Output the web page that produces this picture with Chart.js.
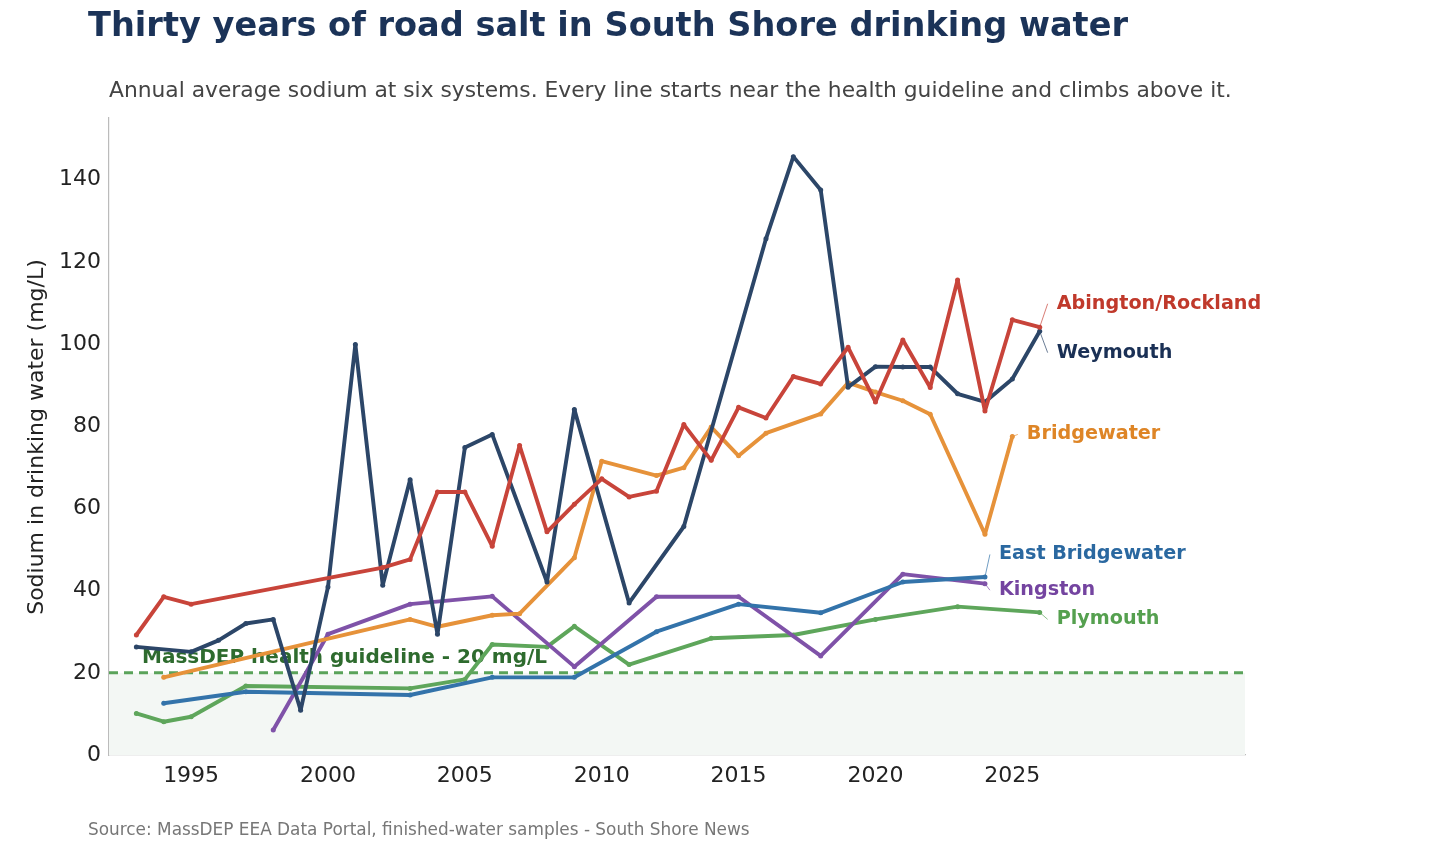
<!DOCTYPE html>
<html>
<head>
<meta charset="utf-8">
<script src="https://cdn.jsdelivr.net/npm/chart.js@4"></script>
<style>
  body { margin: 0; background: #fff; }
  #wrap { width: 1456px; height: 848px; }
</style>
</head>
<body>
<div id="wrap"><canvas id="saltChart" width="1456" height="848"></canvas></div>
<script>
// years sampled, 1993-2026
const years = [1993, 1994, 1995, 1996, 1997, 1998, 1999, 2000, 2001, 2002,
  2003, 2004, 2005, 2006, 2007, 2008, 2009, 2010, 2011, 2012,
  2013, 2014, 2015, 2016, 2017, 2018, 2019, 2020, 2021, 2022,
  2023, 2024, 2025, 2026];

// sodium, mg/L (null = no sample that year)
const abington = [29.2, 38.5, 36.7, null, null, null, null, null, null, 45.6,
  47.6, 64.0, 64.0, 50.8, 75.3, 54.3, 61.0, 67.2, 62.8, 64.2,
  80.4, 71.7, 84.6, 82.0, 92.1, 90.3, 99.2, 85.9, 101.0, 89.4,
  115.6, 83.7, 105.9, 104.1];
const weymouth = [26.3, null, 25.1, 27.9, 32.0, 33.0, 10.9, 40.9, 99.9, 41.3,
  67.0, 29.4, 74.8, 78.0, null, 42.1, 84.1, null, 37.0, null,
  55.6, null, null, 125.6, 145.6, 137.5, 89.5, 94.5, 94.4, 94.4,
  87.9, 85.9, 91.5, 103.1];
const bridgewater = [null, 18.9, null, null, null, null, null, null, null, null,
  33.0, 31.2, null, 34.0, 34.4, null, 48.0, 71.5, null, 68.0,
  69.9, 79.8, 72.8, 78.3, null, 83.0, 90.6, 88.3, 86.2, 82.9,
  null, 53.7, 77.5, null];
const eastBridgewater = [null, 12.6, null, null, 15.4, null, null, null, null, null,
  14.6, null, null, 18.9, null, null, 18.9, null, null, 30.0,
  null, null, 36.7, null, null, 34.6, null, null, 42.1, null,
  null, 43.3, null, null];
const kingston = [null, null, null, null, null, 6.1, null, 29.4, null, null,
  36.7, null, null, 38.6, null, null, 21.5, null, null, 38.5,
  null, null, 38.5, null, null, 24.1, null, null, 44.0, null,
  null, 41.7, null, null];
const plymouth = [10.1, 8.1, 9.3, null, 16.8, null, null, null, null, null,
  16.2, null, 18.4, 26.9, null, 26.3, 31.3, null, 22.0, null,
  null, 28.4, null, null, 29.2, null, null, 33.0, null, null,
  36.1, null, null, 34.7];

const xTicks = [1995, 2000, 2005, 2010, 2015, 2020, 2025];
const yTicks = [0, 20, 40, 60, 80, 100, 120, 140];
const guideline = 20;

const FONT = "'DejaVu Sans', sans-serif";

const series = [
  { name: "Abington/Rockland", values: abington, color: "#c8443a", text: "#c0392b" },
  { name: "Weymouth", values: weymouth, color: "#2c4668", text: "#1a3055" },
  { name: "Bridgewater", values: bridgewater, color: "#e6923a", text: "#de8526" },
  { name: "East Bridgewater", values: eastBridgewater, color: "#3373aa", text: "#2a68a0" },
  { name: "Kingston", values: kingston, color: "#7f52a8", text: "#7444a0" },
  { name: "Plymouth", values: plymouth, color: "#5ea65b", text: "#55a04f" }
];

// where each end label sits, in axis units (year, mg/L)
const labelSpots = {
  "Abington/Rockland": [2026.62, 109.8],
  "Weymouth": [2026.62, 97.9],
  "Bridgewater": [2025.53, 78.0],
  "East Bridgewater": [2024.51, 48.8],
  "Kingston": [2024.51, 40.1],
  "Plymouth": [2026.62, 33.0]
};

const datasets = series.map(s => ({
  label: s.name,
  data: years.map((yr, i) => ({ x: yr, y: s.values[i] })),
  borderColor: s.color,
  backgroundColor: s.color,
  borderWidth: 3.9,
  borderJoinStyle: "round",
  borderCapStyle: "round",
  pointRadius: 2.5,
  pointBorderWidth: 0,
  pointBackgroundColor: s.color,
  tension: 0,
  spanGaps: true
}));

// shaded band + dashed guideline under the lines
const guidePlugin = {
  id: "guide",
  beforeDatasetsDraw(chart) {
    const { ctx, chartArea, scales } = chart;
    const yG = scales.y.getPixelForValue(guideline);
    const y0 = scales.y.getPixelForValue(0);
    ctx.save();
    ctx.fillStyle = "#f3f7f4";
    ctx.fillRect(chartArea.left, yG, chartArea.right - chartArea.left, y0 - yG);
    ctx.strokeStyle = "#5aa35a";
    ctx.lineWidth = 3;
    ctx.setLineDash([9, 6]);
    ctx.beginPath();
    ctx.moveTo(chartArea.left, yG);
    ctx.lineTo(chartArea.right, yG);
    ctx.stroke();
    ctx.setLineDash([]);
    ctx.fillStyle = "#2e6b2e";
    ctx.font = "bold 20px " + FONT;
    ctx.textBaseline = "middle";
    ctx.fillText("MassDEP health guideline - 20 mg/L", 142, yG - 15);
    ctx.restore();
  }
};

// direct labels at the end of each line
const endLabelPlugin = {
  id: "endLabels",
  afterDatasetsDraw(chart) {
    const { ctx, scales } = chart;
    ctx.save();
    ctx.font = "bold 19.2px " + FONT;
    ctx.textBaseline = "middle";
    series.forEach(s => {
      let last = s.values.length - 1;
      while (s.values[last] == null) last--;
      const px = scales.x.getPixelForValue(years[last]);
      const py = scales.y.getPixelForValue(s.values[last]);
      const spot = labelSpots[s.name];
      const lx = scales.x.getPixelForValue(spot[0]);
      const ly = scales.y.getPixelForValue(spot[1]);
      ctx.strokeStyle = s.color;
      ctx.globalAlpha = 0.7;
      ctx.lineWidth = 1;
      ctx.beginPath();
      ctx.moveTo(px, py);
      ctx.lineTo(lx - 9, ly);
      ctx.stroke();
      ctx.globalAlpha = 1;
      ctx.fillStyle = s.text;
      ctx.fillText(s.name, lx, ly);
    });
    ctx.restore();
  }
};

// headline, dek, axis title and source line
const textPlugin = {
  id: "texts",
  afterDraw(chart) {
    const ctx = chart.ctx;
    ctx.save();
    ctx.textBaseline = "middle";
    ctx.fillStyle = "#1b3358";
    ctx.font = "bold 33.6px " + FONT;
    ctx.fillText("Thirty years of road salt in South Shore drinking water", 88, 27);
    ctx.fillStyle = "#444";
    ctx.font = "21.8px " + FONT;
    ctx.fillText("Annual average sodium at six systems. Every line starts near the health guideline and climbs above it.", 109, 91);
    ctx.fillStyle = "#777";
    ctx.font = "16.9px " + FONT;
    ctx.fillText("Source: MassDEP EEA Data Portal, finished-water samples - South Shore News", 88, 831);
    ctx.translate(37, 437);
    ctx.rotate(-Math.PI / 2);
    ctx.textAlign = "center";
    ctx.fillStyle = "#222";
    ctx.font = "22px " + FONT;
    ctx.fillText("Sodium in drinking water (mg/L)", 0, 0);
    ctx.restore();
  }
};

new Chart(document.getElementById("saltChart"), {
  type: "line",
  data: { datasets: datasets },
  options: {
    responsive: false,
    animation: false,
    layout: { padding: { left: 0, top: 118, right: 211, bottom: 0 } },
    plugins: {
      legend: { display: false },
      tooltip: { enabled: false }
    },
    scales: {
      x: {
        type: "linear",
        min: 1992,
        max: 2033.5,
        grid: { display: false, drawTicks: false },
        border: { color: "#bbb", width: 1.2 },
        afterFit(s) { s.height = 93; },
        afterBuildTicks(s) { s.ticks = xTicks.map(v => ({ value: v })); },
        ticks: {
          color: "#222",
          padding: 8,
          font: { family: FONT, size: 22 },
          callback: v => String(v)
        }
      },
      y: {
        min: 0,
        max: 155,
        grid: { display: false, drawTicks: false },
        border: { color: "#bbb", width: 1.2 },
        afterFit(s) { s.width = 109; },
        afterBuildTicks(s) { s.ticks = yTicks.map(v => ({ value: v })); },
        ticks: {
          color: "#222",
          padding: 8,
          font: { family: FONT, size: 22 }
        }
      }
    }
  },
  plugins: [guidePlugin, endLabelPlugin, textPlugin]
});
</script>
</body>
</html>
